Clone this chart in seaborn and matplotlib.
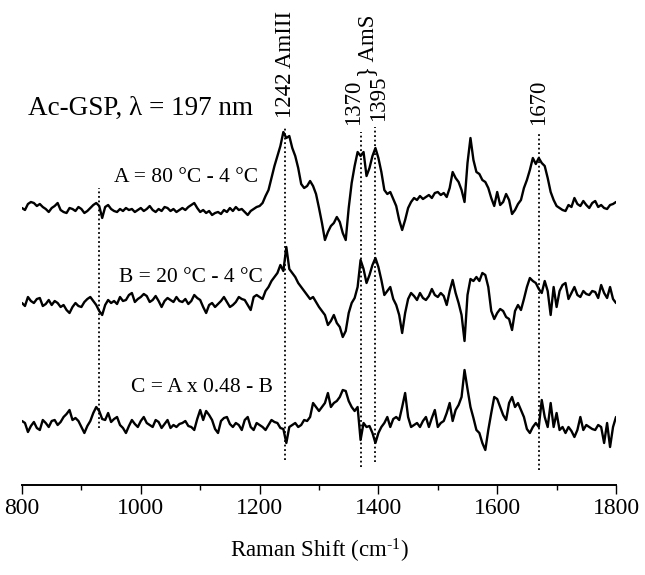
import numpy as np
import pandas as pd
import matplotlib
matplotlib.use("Agg")
import matplotlib.pyplot as plt
from matplotlib.ticker import MultipleLocator
import seaborn as sns

# ---------------- data (intensities in arbitrary units) ----------------
wavenumber = np.arange(800, 1801, 5)

spec_A = [
    0, -2, 4, 6, 5, 2, 4, 1, -1, -4, 0, 2, 5, -2, -4, -5, 0, -1, -3, 1,
    -1, -5, -3, 0, 3, 5, 2, -10, 1, 3, -1, -3, -4, -1, -3, 0, -2, -1, -4, -2,
    0, -3, -1, 2, -2, -4, -1, -3, 1, 0, -3, -1, -4, -2, 0, -2, 1, 3, 5, 0,
    -4, -2, -5, -3, -7, -5, -4, -6, -2, -4, 0, -3, 1, -2, -1, -4, -7, -3, -1, 1,
    2, 5, 12, 18, 30, 42, 52, 62, 76, 70, 72, 60, 52, 40, 24, 20, 22, 27, 22, 14,
    0, -15, -32, -24, -18, -15, -9, -14, -25, -32, 0, 25, 42, 56, 52, 56, 32, 40, 52, 60,
    50, 36, 18, 14, 16, 9, 2, -12, -22, -12, 0, 6, 10, 8, 12, 9, 11, 13, 10, 15,
    16, 13, 15, 11, 20, 36, 30, 26, 18, 6, 45, 70, 48, 36, 34, 28, 26, 20, 10, 2,
    16, 3, 6, 14, 8, -6, -2, 4, 8, 20, 28, 38, 50, 44, 50, 45, 42, 30, 16, 8,
    2, 0, -2, -3, 3, 1, 10, 4, 2, 7, 3, 0, 5, 7, 1, 3, 0, -1, 3, 4,
    6,
]

spec_B = [
    0, -3, 6, 2, 0, 4, 5, -3, -1, 3, -2, 2, 0, -4, -2, -7, -10, -4, 0, -3,
    -4, 1, 4, 6, 2, -2, -8, -12, -2, 3, 0, 2, -1, 6, 2, 3, 8, 10, 1, 4,
    6, 9, 7, 1, 3, 7, 2, -4, 2, 5, 3, 1, 6, 2, 1, 4, -1, 2, 8, 5,
    3, -4, -10, -2, 0, -4, -1, 2, 6, 1, -4, -2, 1, 6, 4, 3, -2, -7, 6, 8,
    6, 4, 12, 16, 22, 26, 30, 38, 32, 56, 34, 30, 26, 20, 16, 12, 8, 4, 6, 1,
    -4, -8, -12, -22, -18, -12, -20, -24, -34, -28, -10, 0, 5, 16, 43, 34, 20, 28, 38, 45,
    36, 23, 8, 12, 16, 4, -2, -12, -30, -10, 4, 10, 7, 3, 10, 5, 3, 7, 14, 8,
    6, 10, 7, -2, 12, 23, 10, 0, -12, -38, 8, 24, 22, 26, 22, 30, 28, 16, -8, -16,
    -10, -6, -8, -14, -16, -27, -8, -2, -7, 4, 16, 25, 22, 20, 14, 10, 22, 12, -12, 16,
    -4, 12, 18, 20, 4, 10, 16, 8, 6, 12, 9, 8, 12, 11, 5, 18, 10, 5, 16, 4,
    0,
]

spec_C = [
    2, 0, -9, -3, 1, -5, -7, 3, 0, -4, 2, 3, -2, 1, 6, 9, 13, 3, 5, 2,
    -4, -10, -3, 2, 10, 16, 12, 4, 3, 10, 1, 4, 6, -2, -5, -10, -3, 3, -1, -4,
    2, 6, 0, -2, -4, 3, 1, -5, -1, 3, -5, -2, -4, -1, 0, 2, -3, -4, -7, 4,
    13, 3, 12, 8, 3, -6, -10, 2, 5, 6, -1, -4, 0, -2, -7, 3, 6, -4, -7, 0,
    -2, -4, -7, -2, 3, 1, 0, -5, -6, -20, -4, -2, 0, -4, -2, 3, 2, 6, 20, 16,
    12, 16, 20, 30, 16, 20, 22, 26, 33, 32, 22, 16, 12, 16, -17, 0, -4, -3, -10, -20,
    -10, -4, 0, 6, -4, 4, 6, 3, 16, 30, 6, -4, -2, 0, -4, 2, 6, -4, 5, 13,
    -4, 0, 2, 10, 20, 2, 13, 18, 26, 53, 34, 16, 5, -7, -10, -20, -27, -7, 10, 26,
    24, 16, 8, 3, 20, 26, 16, 20, 13, 6, -6, -10, -4, 0, -4, 23, 6, -4, 20, -4,
    10, -7, -4, -10, -4, -8, -14, -7, 6, -7, -2, -4, -6, -7, -2, -4, -20, 0, -24, -4,
    6,
]

trace_names = ["A", "B", "C"]
trace_offsets = [277, 182, 62]
trace_labels = ["A = 80 °C - 4 °C", "B = 20 °C - 4 °C", "C = A x 0.48 - B"]

marker_positions = [930, 1242, 1370, 1395, 1670]
marker_texts = ["", "1242 AmIII", "1370", "1395", "1670"]
title_text = "Ac-GSP, λ = 197 nm"
group_text = "} AmS"

# ---------------- style ----------------
sns.set_theme(style="white")
plt.rcParams["font.family"] = ["Liberation Serif", "DejaVu Serif"]
plt.rcParams["mathtext.fontset"] = "custom"
plt.rcParams["mathtext.rm"] = "Liberation Serif"
plt.rcParams["mathtext.it"] = "Liberation Serif:italic"

fig = plt.figure(figsize=(6.45, 5.75), dpi=100)
ax = fig.add_axes([22 / 645, 90 / 575, (616 - 22) / 645, 485 / 575])

df = pd.DataFrame({
    "wn": np.concatenate([wavenumber] * 3),
    "val": np.concatenate([np.array(s) + o for s, o in zip([spec_A, spec_B, spec_C], trace_offsets)]),
    "trace": np.repeat(trace_names, len(wavenumber)),
})
sns.lineplot(data=df, x="wn", y="val", units="trace", estimator=None,
             color="black", lw=1.7, ax=ax, sort=False)

# dotted marker lines
line_spans = {930: (57, 297), 1242: (25, 359), 1370: (18, 353), 1395: (23, 358), 1670: (15, 353)}
for pos in marker_positions:
    y0, y1 = line_spans[pos]
    ax.plot([pos, pos], [y0, y1], color="black", lw=1.3, ls=(0, (1, 1.5)))

# rotated peak labels
label_x = {1242: 1243, 1370: 1358, 1395: 1400, 1670: 1669}
label_y = {1242: 367, 1370: 360, 1395: 364, 1670: 360}
for pos, txt in zip(marker_positions, marker_texts):
    if txt:
        ax.text(label_x[pos], label_y[pos], txt, rotation=90, ha="center", va="bottom",
                fontsize=16.5, color="black")
ax.text(1381, 408, group_text, rotation=90, ha="center", va="bottom", fontsize=16.5, color="black")

# title and trace labels
ax.text(810, 377, title_text, ha="left", va="center", fontsize=19.5, color="black")
label_pos = [(1197, 308), (1206, 208), (1223, 97)]
for (lx, ly), txt in zip(label_pos, trace_labels):
    ax.text(lx, ly, txt, ha="right", va="center", fontsize=15.5, color="black")

# axes
ax.set_xlim(800, 1800)
ax.set_ylim(0, 485)
for side in ["left", "right", "top"]:
    ax.spines[side].set_visible(False)
ax.spines["bottom"].set_linewidth(1.4)
ax.spines["bottom"].set_color("black")
ax.set_yticks([])
ax.set_ylabel("")
ax.xaxis.set_major_locator(MultipleLocator(200))
ax.xaxis.set_minor_locator(MultipleLocator(100))
ax.tick_params(axis="x", which="major", direction="out", length=6.5, width=1.0,
               labelsize=17, pad=3, bottom=True, color="black", labelcolor="black")
ax.tick_params(axis="x", which="minor", direction="out", length=3.6, width=1.0,
               bottom=True, color="black")
ax.set_xlabel("Raman Shift (cm$^{\\text{-1}}$)", fontsize=16.5, labelpad=13, color="black")
ax.patch.set_alpha(0)

fig.savefig("out.png", dpi=100)
